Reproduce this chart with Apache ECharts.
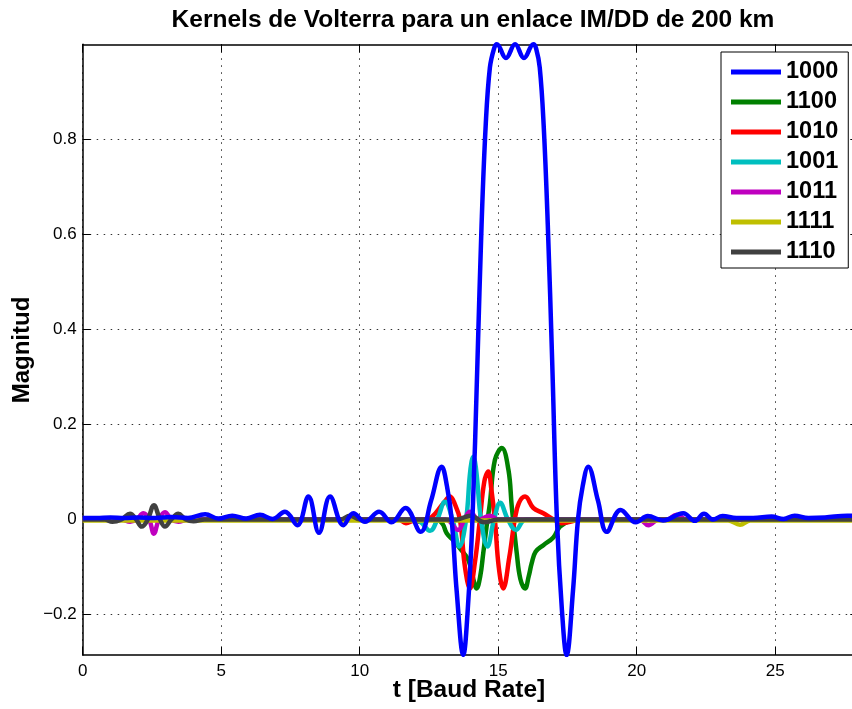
<!DOCTYPE html>
<html>
<head>
<meta charset="utf-8">
<script src="https://cdn.jsdelivr.net/npm/echarts@6/dist/echarts.min.js"></script>
<style>html,body{margin:0;padding:0;background:#fff;}#c{width:852px;height:709px;}</style>
</head>
<body>
<div id="c"></div>
<script>
// ---- data ----
const seriesNames = ['1000','1100','1010','1001','1011','1111','1110'];
const xTicks = [0,5,10,15,20,25];
const yTicks = [-0.2,0,0.2,0.4,0.6,0.8];

const blueT = [0,0.5,1,1.5,2,2.6,3.2,3.8,4.42,4.9,5.4,5.9,6.4,6.85,7.3,7.75,8.15,8.53,8.93,9.41,9.77,10.19,10.7,11.15,11.65,12.2,12.58,12.96,13.15,13.32,13.5,13.74,13.9,14.07,14.25,14.4,14.55,14.7,14.85,14.95,15.28,15.61,15.93,16.27,16.37,16.5,16.64,16.79,16.95,17.12,17.3,17.47,17.7,17.88,18.05,18.25,18.6,18.92,19.42,19.97,20.4,20.95,21.68,22.1,22.43,22.75,23.1,23.6,24.2,24.87,25.3,25.7,26.2,26.8,27.6,28];
const blueY = [0.003,0.003,0.004,0.003,0.004,0.003,0.005,0.003,0.011,0.002,0.008,0.002,0.01,0.001,0.016,-0.012,0.048,-0.028,0.048,-0.012,0.013,-0.005,0.016,-0.006,0.024,-0.026,0.04,0.111,0.07,0.0,-0.15,-0.285,-0.19,0.0,0.33,0.62,0.83,0.95,0.99,0.999,0.970,0.999,0.970,0.999,0.99,0.95,0.83,0.62,0.33,0.0,-0.19,-0.285,-0.15,0.0,0.07,0.111,0.04,-0.026,0.02,-0.006,0.007,-0.002,0.013,-0.003,0.012,0.0,0.007,0.003,0.003,0.006,0.001,0.008,0.003,0.004,0.008,0.006];

const greenT = [0,12.5,12.78,13.0,13.14,13.4,13.62,13.92,14.1,14.22,14.35,14.46,14.58,14.7,14.88,15.13,15.37,15.49,15.67,15.8,15.97,16.1,16.21,16.35,16.63,16.99,17.23,17.6,18,28];
const greenY = [0,0,0,-0.01,-0.029,-0.045,-0.061,-0.085,-0.125,-0.145,-0.12,-0.071,-0.015,0.034,0.125,0.15,0.104,0.027,-0.071,-0.125,-0.145,-0.12,-0.092,-0.068,-0.054,-0.038,-0.015,-0.003,0,0];

const redT = [0,11.4,11.67,12.0,12.18,12.6,13.02,13.26,13.45,13.62,13.8,13.98,14.16,14.34,14.5,14.64,14.76,14.88,15.02,15.18,15.4,15.6,15.75,15.97,16.27,16.63,16.99,17.29,17.6,18,28];
const redY = [0,0,-0.008,-0.002,-0.005,0.005,0.034,0.048,0.03,0,-0.1,-0.145,-0.09,0,0.08,0.101,0.06,0,-0.1,-0.145,-0.08,0,0.035,0.048,0.024,0.013,0,-0.008,-0.005,0,0];

const cyanT = [0,11.8,12.18,12.54,12.8,13.08,13.35,13.6,13.84,13.97,14.04,14.1,14.16,14.23,14.38,14.61,14.85,15.07,15.35,15.64,16.0,28];
const cyanY = [0,0,-0.005,-0.024,0,0.037,0,-0.057,0,0.09,0.122,0.132,0.122,0.09,0,-0.057,0,0.035,0,-0.022,0,0];

const magT = [0,1.4,1.71,1.95,2.19,2.4,2.57,2.75,2.97,3.2,3.45,3.8,13.1,13.55,13.78,13.98,14.3,14.7,15.0,20.1,20.42,20.8,21.1,21.44,21.8,28];
const magY = [0,0,-0.005,0,0.013,0,-0.03,0,0.015,0,-0.005,0,0,-0.022,0,0.016,0,0.008,0,0,-0.012,0,0,0.01,0,0];

const yelT = [0,23.3,23.73,24.1,28];
const yelY = [-0.002,-0.002,-0.011,-0.002,-0.002];

const grayT = [0,0.8,1.07,1.4,1.71,1.93,2.13,2.35,2.57,2.79,2.97,3.2,3.45,3.72,4.0,4.4,9.3,9.65,10.0,13.5,14.0,14.5,15.0,28];
const grayY = [0,0,-0.005,0,0.012,0,-0.015,0,0.03,0,-0.015,0,0.012,0,-0.004,0,0,0.008,0,0,0.008,-0.006,0,0];

// ---- build ----
const zip = (t, y) => t.map((v, i) => [v, y[i]]);
const colors = {'1000':'#0000FF','1100':'#008000','1010':'#FF0000','1001':'#00BFBF','1011':'#BF00BF','1111':'#BFBF00','1110':'#404040'};
const dataMap = {
  '1000': zip(blueT, blueY), '1100': zip(greenT, greenY), '1010': zip(redT, redY),
  '1001': zip(cyanT, cyanY), '1011': zip(magT, magY), '1111': zip(yelT, yelY), '1110': zip(grayT, grayY)
};
const drawOrder = ['1100','1010','1001','1011','1111','1110','1000'];
const FONT = '"Liberation Sans", Arial, Helvetica, sans-serif';

const series = drawOrder.map(n => ({
  name: n, type: 'line', data: dataMap[n], xAxisIndex: 0, yAxisIndex: 0,
  showSymbol: false, smooth: 0.4, color: colors[n],
  lineStyle: { width: 4.5, color: colors[n] }, animation: false
}));

const axisLineStyle = { show: true, onZero: false, lineStyle: { color: '#000', width: 1.5 } };
const gridLine = { show: true, lineStyle: { color: '#333', width: 1, type: [1.5, 5.5] } };
const minusFmt = v => String(v).replace('-', '\u2212');
const tickStyle = vals => ({ show: true, inside: true, length: 8, lineStyle: { color: '#000', width: 1 }, customValues: vals });

const chart = echarts.init(document.getElementById('c'), null, { renderer: 'canvas' });
chart.setOption({
  animation: false,
  backgroundColor: '#fff',
  grid: { left: 82.7, top: 44.3, width: 775.6, height: 610.7, containLabel: false, outerBoundsMode: 'none' },
  xAxis: [
    { type: 'value', position: 'bottom', min: 0, max: 28, interval: 5,
      axisLine: axisLineStyle, axisTick: tickStyle(xTicks),
      axisLabel: { show: true, color: '#000', fontSize: 17, fontFamily: FONT, margin: 8, customValues: xTicks, formatter: minusFmt },
      splitLine: gridLine },
    { type: 'value', position: 'top', min: 0, max: 28, interval: 5,
      axisLine: axisLineStyle, axisTick: tickStyle(xTicks),
      axisLabel: { show: false }, splitLine: { show: false } }
  ],
  yAxis: [
    { type: 'value', position: 'left', min: -0.285, max: 0.999, interval: 0.2,
      axisLine: axisLineStyle, axisTick: tickStyle(yTicks),
      axisLabel: { show: true, color: '#000', fontSize: 17, fontFamily: FONT, margin: 6, customValues: yTicks, formatter: minusFmt },
      splitLine: gridLine },
    { type: 'value', position: 'right', min: -0.285, max: 0.999, interval: 0.2,
      axisLine: axisLineStyle, axisTick: tickStyle(yTicks),
      axisLabel: { show: false }, splitLine: { show: false } }
  ],
  legend: {
    data: seriesNames, left: 721, top: 52, orient: 'vertical',
    padding: [8, 10, 4, 10], itemGap: 6, itemWidth: 50, itemHeight: 5, icon: 'rect',
    borderColor: '#000', borderWidth: 1, backgroundColor: '#fff',
    textStyle: { fontSize: 23.5, fontWeight: 'bold', color: '#000', fontFamily: FONT, lineHeight: 24 },
    selectedMode: false
  },
  graphic: [
    { type: 'text', x: 473, y: 20, z: 100,
      style: { text: 'Kernels de Volterra para un enlace IM/DD de 200 km', font: 'bold 24.5px ' + FONT, fill: '#000', align: 'center', verticalAlign: 'middle' } },
    { type: 'text', x: 469, y: 690, z: 100,
      style: { text: 't [Baud Rate]', font: 'bold 24.5px ' + FONT, fill: '#000', align: 'center', verticalAlign: 'middle' } },
    { type: 'text', x: 22, y: 350, rotation: Math.PI / 2, z: 100,
      style: { text: 'Magnitud', font: 'bold 24px ' + FONT, fill: '#000', align: 'center', verticalAlign: 'middle' } }
  ],
  series: series
});
</script>
</body>
</html>
